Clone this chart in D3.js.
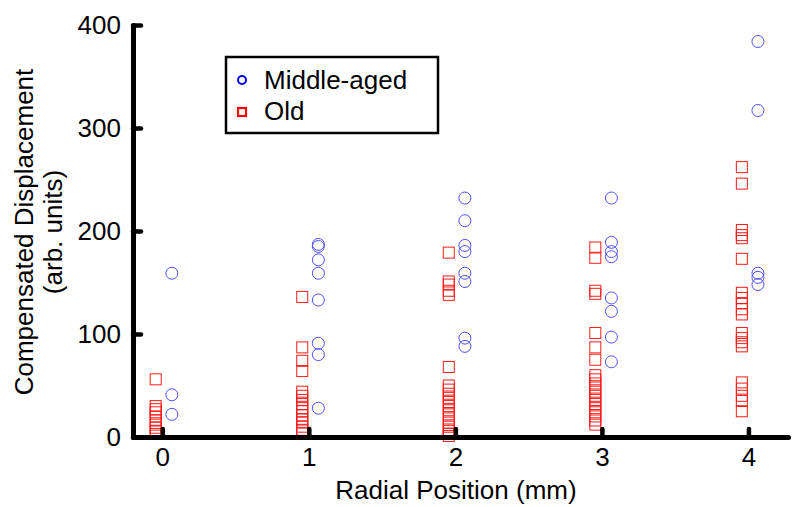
<!DOCTYPE html>
<html>
<head>
<meta charset="utf-8">
<script src="https://cdn.jsdelivr.net/npm/d3@7"></script>
<style>
  html, body { margin: 0; padding: 0; background: #fff; }
  svg { display: block; }
  text { font-family: "Liberation Sans", Arial, sans-serif; fill: #000; }
</style>
</head>
<body>
<svg id="chart" width="800" height="507"></svg>
<script>
// ---- data ----
const positions = [0, 1, 2, 3, 4];
const xTicks = [0, 1, 2, 3, 4];
const yTicks = [0, 100, 200, 300, 400];
const seriesNames = ["Middle-aged", "Old"];

const middleAged = [
  [159, 41, 22],
  [187, 185, 172, 159, 133, 91, 80, 28],
  [232, 210, 186, 180, 159, 151, 96, 88],
  [232, 189, 180, 175, 135, 122, 97, 73],
  [384, 317, 159, 155, 148]
];
const old = [
  [56, 30, 27, 24, 20, 16, 12, 9, 6, 3],
  [136, 87, 74, 64, 44, 40, 36, 32, 28, 25, 21, 17, 14, 10, 7, 4],
  [179, 151, 148, 142, 138, 68, 50, 46, 42, 38, 34, 30, 26, 22, 18, 14, 10, 6, 3, 1],
  [184, 174, 142, 139, 101, 87, 75, 60, 56, 52, 48, 44, 40, 36, 32, 28, 24, 20, 16, 12],
  [262, 246, 201, 196, 193, 173, 140, 135, 130, 124, 119, 101, 96, 92, 88, 53, 47, 40, 35, 25]
];

// ---- layout ----
const svg = d3.select("#chart");
const FONT = 26;
const x = d3.scaleLinear().domain([-0.2, 4.27]).range([133, 788]);
const y = d3.scaleLinear().domain([0, 400]).range([437, 25]);
const offMid = 0.065, offOld = -0.045;

// ---- points ----
const oldPts = [], midPts = [];
positions.forEach((p, i) => {
  old[i].forEach(v => oldPts.push({x: p, v}));
  middleAged[i].forEach(v => midPts.push({x: p, v}));
});

const sq = 11;
svg.append("g").selectAll("rect").data(oldPts).join("rect")
  .attr("x", d => x(d.x + offOld) - sq / 2)
  .attr("y", d => y(d.v) - sq / 2)
  .attr("width", sq).attr("height", sq)
  .attr("fill", "none").attr("stroke", "#ff1a1a").attr("stroke-width", 1);

svg.append("g").selectAll("circle").data(midPts).join("circle")
  .attr("cx", d => x(d.x + offMid))
  .attr("cy", d => y(d.v))
  .attr("r", 6)
  .attr("fill", "none").attr("stroke", "#4f4fff").attr("stroke-width", 1);

// ---- axes ----
const gx = svg.append("g").attr("transform", `translate(0,${y(0)})`)
  .call(d3.axisBottom(x).tickValues(xTicks).tickSize(-8).tickSizeOuter(0).tickPadding(11).tickFormat(d3.format("d")));
const gy = svg.append("g").attr("transform", `translate(${x(-0.2)},0)`)
  .call(d3.axisLeft(y).tickValues(yTicks).tickSize(-8).tickSizeOuter(0).tickPadding(12).tickFormat(d3.format("d")));

[gx, gy].forEach(g => {
  g.select(".domain").attr("stroke", "#000").attr("stroke-width", 5).attr("stroke-linecap", "round");
  g.selectAll(".tick line").attr("stroke", "#000").attr("stroke-width", 4.5).attr("stroke-linecap", "round");
  g.selectAll(".tick text").attr("font-size", FONT).attr("font-family", "Liberation Sans, Arial, sans-serif").attr("fill", "#000");
});

// ---- axis titles ----
svg.append("text")
  .attr("x", 456).attr("y", 499)
  .attr("text-anchor", "middle").attr("font-size", FONT)
  .text("Radial Position (mm)");

svg.append("text")
  .attr("transform", "translate(33,232) rotate(-90)")
  .attr("text-anchor", "middle").attr("font-size", FONT)
  .text("Compensated Displacement");
svg.append("text")
  .attr("transform", "translate(62,232) rotate(-90)")
  .attr("text-anchor", "middle").attr("font-size", FONT)
  .text("(arb. units)");

// ---- legend ----
const lg = svg.append("g");
lg.append("rect").attr("x", 226).attr("y", 57).attr("width", 212).attr("height", 76)
  .attr("fill", "#fff").attr("stroke", "#000").attr("stroke-width", 2.5);
lg.append("circle").attr("cx", 242).attr("cy", 80).attr("r", 4)
  .attr("fill", "none").attr("stroke", "#0000ff").attr("stroke-width", 2);
lg.append("rect").attr("x", 238).attr("y", 108).attr("width", 8).attr("height", 8)
  .attr("fill", "none").attr("stroke", "#ff0000").attr("stroke-width", 2.2);
lg.append("text").attr("x", 264).attr("y", 89).attr("font-size", FONT).text(seriesNames[0]);
lg.append("text").attr("x", 264).attr("y", 120).attr("font-size", FONT).text(seriesNames[1]);
</script>
</body>
</html>
